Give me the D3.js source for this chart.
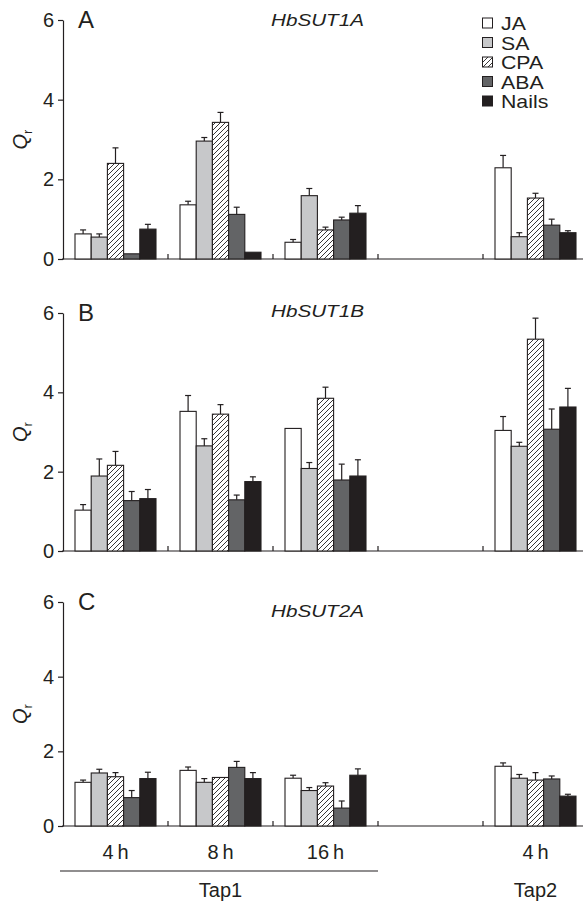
<!DOCTYPE html>
<html>
<head>
<meta charset="utf-8">
<script src="https://cdn.jsdelivr.net/npm/d3@7"></script>
<style>
  html, body { margin: 0; padding: 0; background: #fff; }
  svg { display: block; }
  text { font-family: "Liberation Sans", Arial, Helvetica, sans-serif; fill: #231f20; }
</style>
</head>
<body>
<svg id="chart" width="583" height="902"></svg>
<script>
// ---------------- data ----------------
const groups = ["g1", "g2", "g3", "g4", "g5"];
const groupLabels = ["4\u2009h", "8\u2009h", "16\u2009h", "", "4\u2009h"];
const treatments = ["JA", "SA", "CPA", "ABA", "Nails"];
const yTicks = [0, 2, 4, 6];

// HbSUT1A  (means, SE) per group; g4 is empty
const sut1aMean = { g1: [0.63, 0.55, 2.40, 0.13, 0.75], g2: [1.36, 2.96, 3.43, 1.12, 0.17], g3: [0.42, 1.59, 0.73, 0.98, 1.15], g5: [2.29, 0.56, 1.53, 0.85, 0.66] };
const sut1aErr  = { g1: [0.10, 0.08, 0.39, 0.00, 0.12], g2: [0.09, 0.09, 0.25, 0.18, 0.00], g3: [0.07, 0.18, 0.07, 0.07, 0.19], g5: [0.31, 0.10, 0.12, 0.15, 0.05] };
// HbSUT1B
const sut1bMean = { g1: [1.03, 1.89, 2.16, 1.27, 1.32], g2: [3.52, 2.65, 3.45, 1.29, 1.75], g3: [3.09, 2.08, 3.85, 1.79, 1.89], g5: [3.04, 2.64, 5.34, 3.07, 3.63] };
const sut1bErr  = { g1: [0.14, 0.43, 0.35, 0.23, 0.23], g2: [0.40, 0.18, 0.24, 0.12, 0.12], g3: [0.00, 0.15, 0.28, 0.40, 0.41], g5: [0.35, 0.10, 0.53, 0.51, 0.47] };
// HbSUT2A
const sut2aMean = { g1: [1.17, 1.42, 1.32, 0.76, 1.27], g2: [1.49, 1.17, 1.30, 1.57, 1.27], g3: [1.28, 0.95, 1.07, 0.48, 1.36], g5: [1.60, 1.28, 1.23, 1.26, 0.80] };
const sut2aErr  = { g1: [0.06, 0.10, 0.11, 0.19, 0.17], g2: [0.09, 0.10, 0.00, 0.16, 0.16], g3: [0.08, 0.08, 0.09, 0.19, 0.17], g5: [0.09, 0.10, 0.20, 0.08, 0.05] };

const panels = [
  { letter: "A", gene: "HbSUT1A", mean: sut1aMean, err: sut1aErr, top: 20, bottom: 259, legend: true, geneDy: 0 },
  { letter: "B", gene: "HbSUT1B", mean: sut1bMean, err: sut1bErr, top: 313, bottom: 551, legend: false, geneDy: -2 },
  { letter: "C", gene: "HbSUT2A", mean: sut2aMean, err: sut2aErr, top: 602, bottom: 826, legend: false, geneDy: 9 }
];

// ---------------- styles ----------------
const fills = { JA: "#ffffff", SA: "#c7c8ca", CPA: "url(#hatch)", ABA: "#636466", Nails: "#231f20" };
const ink = "#231f20";
const WIDEN = 1.12; // reference face is a little wider than Liberation Sans

const svg = d3.select("#chart");
const defs = svg.append("defs");
const pat = defs.append("pattern").attr("id", "hatch").attr("patternUnits", "userSpaceOnUse")
  .attr("width", 5).attr("height", 5);
pat.append("rect").attr("width", 5).attr("height", 5).attr("fill", "#fff");
pat.append("path").attr("d", "M-1,1 l2,-2 M0,5 l5,-5 M4,6 l2,-2").attr("stroke", ink).attr("stroke-width", 0.9);

function widen(sel) {
  sel.each(function () {
    const w = this.getComputedTextLength();
    if (w > 0) d3.select(this).attr("textLength", w * WIDEN).attr("lengthAdjust", "spacingAndGlyphs");
  });
  return sel;
}

const x0 = 63, xEnd = 583;
const x = d3.scaleBand().domain(groups).range([x0, x0 + 525]).padding(0);
const xs = d3.scaleBand().domain(treatments).range([12, x.bandwidth() - 12]).padding(0);

panels.forEach(p => {
  const y = d3.scaleLinear().domain([0, 6]).range([p.bottom, p.top]);
  const g = svg.append("g");

  // y axis
  const ax = g.append("g").attr("transform", `translate(${x0},0)`)
    .call(d3.axisLeft(y).tickValues(yTicks).tickSize(5).tickPadding(4).tickSizeOuter(0).tickFormat(d3.format("d")));
  ax.select(".domain").attr("stroke", ink).attr("stroke-width", 1.2);
  ax.selectAll(".tick line").attr("stroke", ink).attr("stroke-width", 1.2);
  ax.selectAll(".tick text").attr("font-size", 20).attr("fill", ink)
    .attr("font-family", "'Liberation Sans', Arial, sans-serif");

  // x baseline
  g.append("line").attr("x1", x0 - 1).attr("x2", xEnd).attr("y1", y(0)).attr("y2", y(0))
    .attr("stroke", ink).attr("stroke-width", 1.2);
  // group boundary ticks
  groups.slice(1).forEach(k => {
    g.append("line").attr("x1", x(k)).attr("x2", x(k)).attr("y1", y(0)).attr("y2", y(0) - 5)
      .attr("stroke", ink).attr("stroke-width", 1.2);
  });

  // bars
  groups.forEach(k => {
    const vals = p.mean[k];
    if (!vals) return;
    const errs = p.err[k];
    const gg = g.append("g").attr("transform", `translate(${x(k)},0)`);
    treatments.forEach((t, i) => {
      const v = vals[i], e = errs[i];
      const bx = xs(t), bw = xs.bandwidth();
      if (e > 0) {
        const cx = bx + bw / 2;
        gg.append("line").attr("x1", cx).attr("x2", cx).attr("y1", y(v)).attr("y2", y(v + e))
          .attr("stroke", ink).attr("stroke-width", 1.2);
        gg.append("line").attr("x1", cx - 3).attr("x2", cx + 3).attr("y1", y(v + e)).attr("y2", y(v + e))
          .attr("stroke", ink).attr("stroke-width", 1.2);
      }
      gg.append("rect").attr("x", bx).attr("width", bw).attr("y", y(v)).attr("height", y(0) - y(v))
        .attr("fill", fills[t]).attr("stroke", ink).attr("stroke-width", 1.1);
    });
  });

  // panel letter
  g.append("text").attr("x", 78).attr("y", p.top + 8).attr("font-size", 24).text(p.letter);
  // gene name
  g.append("text").attr("x", 271).attr("y", p.top + 6 + p.geneDy).attr("font-size", 17)
    .attr("font-style", "italic").attr("textLength", 93).attr("lengthAdjust", "spacingAndGlyphs").text(p.gene);

  // y label Q_r
  const cy = (p.top + p.bottom) / 2;
  const lab = g.append("text").attr("transform", `translate(27,${cy}) rotate(-90)`)
    .attr("text-anchor", "middle").attr("font-size", 20);
  lab.append("tspan").attr("font-style", "italic").text("Q");
  lab.append("tspan").attr("font-size", 13).attr("dy", 5).text("r");

  // legend
  if (p.legend) {
    const lg = g.append("g");
    treatments.forEach((t, i) => {
      const yy = 23 + i * 19.5;
      lg.append("rect").attr("x", 482.5).attr("y", yy - 5).attr("width", 10).attr("height", 10)
        .attr("fill", fills[t]).attr("stroke", ink).attr("stroke-width", 1);
      widen(lg.append("text").attr("x", 501).attr("y", yy + 7).attr("font-size", 19).text(t));
    });
  }
});

// x category labels
const yLab = 859;
groups.forEach((k, i) => {
  if (!groupLabels[i]) return;
  svg.append("text").attr("x", x(k) + x.bandwidth() / 2).attr("y", yLab)
    .attr("text-anchor", "middle").attr("font-size", 20).text(groupLabels[i]);
});
// Tap1 bracket line
svg.append("line").attr("x1", 60).attr("x2", x("g4")).attr("y1", 871).attr("y2", 871)
  .attr("stroke", ink).attr("stroke-width", 1.2);
svg.append("text").attr("x", x("g2") + x.bandwidth() / 2).attr("y", 897)
  .attr("text-anchor", "middle").attr("font-size", 20).text("Tap1");
svg.append("text").attr("x", x("g5") + x.bandwidth() / 2).attr("y", 897)
  .attr("text-anchor", "middle").attr("font-size", 20).text("Tap2");
</script>
</body>
</html>
